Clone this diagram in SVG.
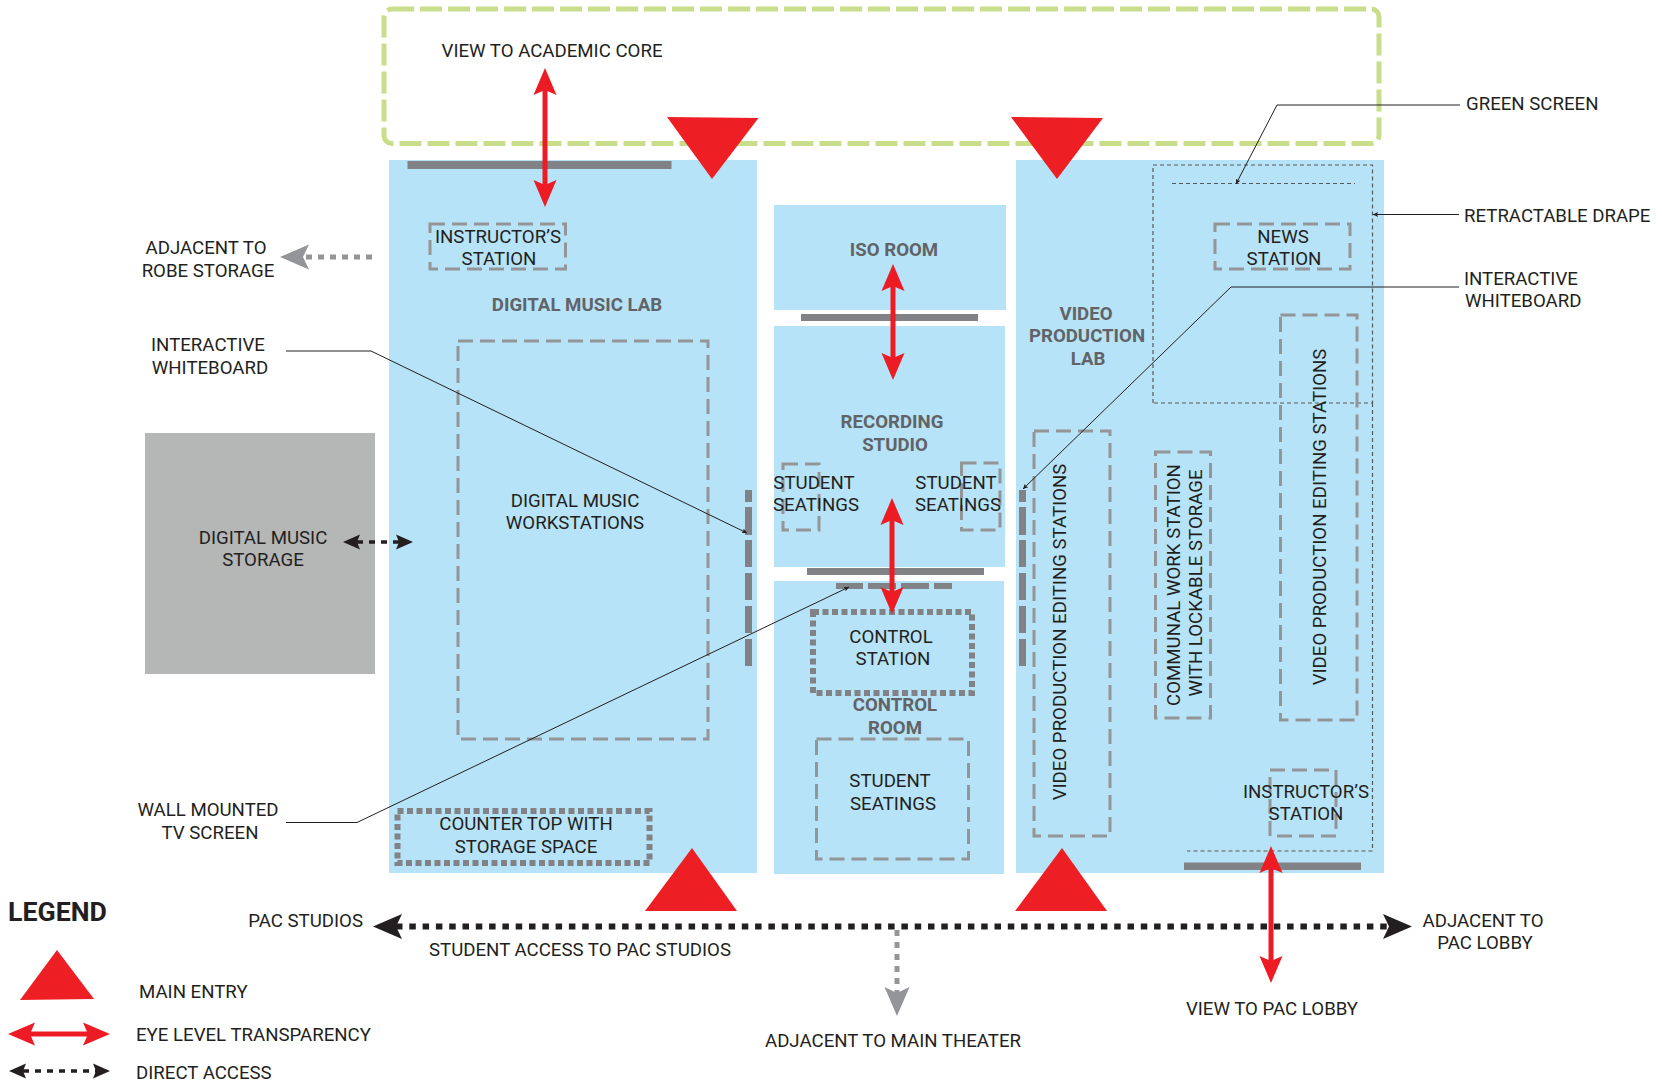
<svg xmlns="http://www.w3.org/2000/svg" width="1662" height="1085" viewBox="0 0 1662 1085">
<style>
text{font-family:Roboto,"Liberation Sans",sans-serif;font-size:18.65px;fill:#231f20;text-anchor:middle}
.b{font-weight:700;fill:#626366}
.s{text-anchor:start}
.e{text-anchor:end}
.room{fill:#b6e3f7}
.wall{fill:#808285}
.box{fill:none;stroke:#939598;stroke-width:3;stroke-dasharray:15 7}
.dot{fill:none;stroke:#808285;stroke-width:6;stroke-dasharray:6 3.500}
.thin{fill:none;stroke:#58595b;stroke-width:1.2;stroke-dasharray:4 3}
.lead{fill:none;stroke:#231f20;stroke-width:1;marker-end:url(#small)}
.red{stroke:#ed1c24;stroke-width:5;fill:none;marker-start:url(#rh);marker-end:url(#rh)}
.tri{fill:#ed1f24}
</style>
<defs>
<marker id="rh" markerUnits="userSpaceOnUse" markerWidth="28" markerHeight="24" refX="5" refY="11.500" orient="auto-start-reverse" viewBox="0 0 28 23"><path d="M27 11.500L0 0L5 11.500L0 23Z" fill="#ed1c24"/></marker>
<marker id="kh" markerUnits="userSpaceOnUse" markerWidth="30" markerHeight="26" refX="6" refY="12.500" orient="auto-start-reverse" viewBox="0 0 30 25"><path d="M29 12.500L0 0L6 12.500L0 25Z" fill="#231f20"/></marker>
<marker id="kh2" markerUnits="userSpaceOnUse" markerWidth="18" markerHeight="16" refX="3" refY="7.500" orient="auto-start-reverse" viewBox="0 0 18 15"><path d="M17 7.500L0 0L3 7.500L0 15Z" fill="#231f20"/></marker>
<marker id="gh" markerUnits="userSpaceOnUse" markerWidth="30" markerHeight="26" refX="6" refY="12.500" orient="auto-start-reverse" viewBox="0 0 30 25"><path d="M29 12.500L0 0L6 12.500L0 25Z" fill="#939598"/></marker>
<marker id="small" markerUnits="userSpaceOnUse" markerWidth="6" markerHeight="6" refX="5" refY="2.500" orient="auto" viewBox="0 0 6 5"><path d="M5 2.500L0 0L1 2.500L0 5Z" fill="#231f20"/></marker>
</defs>

<g id="academic-core"><rect x="384" y="9" width="995" height="134.500" rx="8" fill="none" stroke="#c9de8b" stroke-width="5" stroke-dasharray="22 6"/><text x="552" y="57">VIEW TO ACADEMIC CORE</text></g>

<g id="digital-music-lab">
<rect class="room" x="389" y="160" width="368" height="713"/>
<rect class="wall" x="407.500" y="161" width="264" height="8"/>
<text class="b" x="577" y="311">DIGITAL MUSIC LAB</text>
</g>
<g id="iso-room"><rect class="room" x="774" y="205" width="232" height="105"/><text class="b" x="894" y="256">ISO ROOM</text></g>
<g id="recording-studio">
<rect class="room" x="774" y="326" width="231" height="241"/>
<rect class="wall" x="801" y="314" width="177" height="7"/>
<text class="b" x="892" y="428">RECORDING</text><text class="b" x="895" y="451">STUDIO</text>
</g>
<g id="control-room">
<rect class="room" x="774" y="581" width="230" height="293"/>
<rect class="wall" x="807" y="568" width="177" height="7"/>
<rect class="wall" x="836" y="583" width="27" height="6"/><rect class="wall" x="868" y="583" width="28" height="6"/><rect class="wall" x="901" y="583" width="28" height="6"/><rect class="wall" x="934" y="583" width="18" height="6"/>
<text class="b" x="895" y="711">CONTROL</text><text class="b" x="895" y="734">ROOM</text>
</g>
<g id="video-production-lab">
<rect class="room" x="1016" y="160" width="368" height="713"/>
<rect class="wall" x="1184" y="862.500" width="177" height="7.500"/>
<text class="b" x="1086" y="320">VIDEO</text><text class="b" x="1087" y="342">PRODUCTION</text><text class="b" x="1088" y="365">LAB</text>
<path class="thin" d="M1153 403V165H1372.500V403H1153M1372.500 403V851H1187"/>
<path class="thin" d="M1172 183.500H1355"/>
</g>
<g id="whiteboard-left" class="wall"><rect x="745" y="490" width="7" height="12"/><rect x="745" y="507" width="7" height="28"/><rect x="745" y="540" width="7" height="27"/><rect x="745" y="573" width="7" height="27"/><rect x="745" y="606" width="7" height="27"/><rect x="745" y="639" width="7" height="27"/></g>
<g id="whiteboard-right" class="wall"><rect x="1019" y="490" width="7" height="12"/><rect x="1019" y="507" width="7" height="28"/><rect x="1019" y="540" width="7" height="27"/><rect x="1019" y="573" width="7" height="27"/><rect x="1019" y="606" width="7" height="27"/><rect x="1019" y="639" width="7" height="27"/></g>
<g id="digital-music-storage"><rect x="145" y="433" width="230" height="241" fill="#b5b6b6"/><text x="263" y="544">DIGITAL MUSIC</text><text x="263" y="566">STORAGE</text></g>

<g id="instructor-station-music"><rect class="box" x="430" y="224" width="135.500" height="45"/><text x="498" y="243">INSTRUCTOR’S</text><text x="499" y="265">STATION</text></g>
<g id="music-workstations"><rect class="box" x="458" y="341" width="250" height="398"/><text x="575" y="507">DIGITAL MUSIC</text><text x="575" y="529">WORKSTATIONS</text></g>
<g id="counter-top"><rect class="dot" x="397.500" y="811" width="252" height="52"/><text x="526" y="830">COUNTER TOP WITH</text><text x="526" y="853">STORAGE SPACE</text></g>
<g id="seating-left"><rect class="box" x="783" y="464" width="36" height="66"/><text x="814" y="489">STUDENT</text><text x="816" y="511">SEATINGS</text></g>
<g id="seating-right"><rect class="box" x="961.500" y="463" width="38.500" height="67"/><text x="956" y="489">STUDENT</text><text x="958" y="511">SEATINGS</text></g>
<g id="control-station"><rect class="dot" x="813" y="612" width="159" height="81"/><text x="891" y="643">CONTROL</text><text x="893" y="665">STATION</text></g>
<g id="seating-control"><rect class="box" x="816.500" y="739" width="152" height="120"/><text x="890" y="787">STUDENT</text><text x="893" y="810">SEATINGS</text></g>
<g id="editing-left"><rect class="box" x="1034" y="431" width="76" height="405"/><text transform="translate(1066 632) rotate(-90)">VIDEO PRODUCTION EDITING STATIONS</text></g>
<g id="communal"><rect class="box" x="1155.500" y="452" width="55" height="266"/><text transform="translate(1180 585) rotate(-90)">COMMUNAL WORK STATION</text><text transform="translate(1202 583) rotate(-90)">WITH LOCKABLE STORAGE</text></g>
<g id="editing-right"><rect class="box" x="1280.500" y="315" width="76.500" height="405"/><text transform="translate(1326 517) rotate(-90)">VIDEO PRODUCTION EDITING STATIONS</text></g>
<g id="news-station"><rect class="box" x="1215" y="224" width="135" height="45"/><text x="1283" y="243">NEWS</text><text x="1284" y="265">STATION</text></g>
<g id="instructor-station-video"><rect class="box" x="1270" y="770" width="66" height="66"/><text x="1306" y="798">INSTRUCTOR’S</text><text x="1306" y="820">STATION</text></g>

<g id="entries">
<path class="tri" d="M667 117L758.500 118L712 179Z"/><path class="tri" d="M1011 117L1103 118L1057 179Z"/>
<path class="tri" d="M692 848L737 911L645 911Z"/><path class="tri" d="M1062 848L1107 911L1015 911Z"/>
</g>

<g id="connectors">
<path d="M396 926.500H1389" fill="none" stroke="#231f20" stroke-width="6" stroke-dasharray="6.500 6.800" marker-start="url(#kh)" marker-end="url(#kh)"/>
<path d="M372 257H303" fill="none" stroke="#939598" stroke-width="5" stroke-dasharray="6 6" marker-end="url(#gh)"/>
<path d="M897 930V993" fill="none" stroke="#939598" stroke-width="5" stroke-dasharray="6 6" marker-end="url(#gh)"/>
<path d="M357 542H399" fill="none" stroke="#231f20" stroke-width="3.500" stroke-dasharray="6 6" marker-start="url(#kh2)" marker-end="url(#kh2)"/>
<path class="red" d="M545 90V185"/>
<path class="red" d="M893 286V358"/>
<path class="red" d="M892 520V592"/>
<path class="red" d="M1271 868V961"/>
<path class="lead" d="M1460 105H1277L1236 184"/>
<path class="lead" d="M1459 214.500H1373"/>
<path class="lead" d="M1459 287H1231L1023 489"/>
<path class="lead" d="M286 351H371L747 533"/>
<path class="lead" d="M286 822.500H357L849 587"/>
</g>

<g id="labels">
<text x="206" y="254">ADJACENT TO</text><text x="208" y="277">ROBE STORAGE</text>
<text x="208" y="351">INTERACTIVE</text><text x="210" y="374">WHITEBOARD</text>
<text x="208" y="816">WALL MOUNTED</text><text x="210" y="839">TV SCREEN</text>
<text class="e" x="363" y="927">PAC STUDIOS</text>
<text x="580" y="956">STUDENT ACCESS TO PAC STUDIOS</text>
<text x="893" y="1047">ADJACENT TO MAIN THEATER</text>
<text x="1272" y="1015">VIEW TO PAC LOBBY</text>
<text x="1483" y="927">ADJACENT TO</text><text x="1485" y="949">PAC LOBBY</text>
<text class="s" x="1466" y="110">GREEN SCREEN</text>
<text class="s" x="1464" y="222">RETRACTABLE DRAPE</text>
<text class="s" x="1464" y="285">INTERACTIVE</text><text class="s" x="1465" y="307">WHITEBOARD</text>
</g>

<g id="legend">
<text class="s" x="8" y="921" style="font-size:26.700px;font-weight:700">LEGEND</text>
<path class="tri" d="M57 950L94 999L20 1000Z"/>
<text class="s" x="139" y="998">MAIN ENTRY</text>
<path class="red" d="M30 1034H88"/>
<text class="s" x="136" y="1041">EYE LEVEL TRANSPARENCY</text>
<path d="M23 1071H96" fill="none" stroke="#231f20" stroke-width="3.500" stroke-dasharray="6 6" marker-start="url(#kh2)" marker-end="url(#kh2)"/>
<text class="s" x="136" y="1079">DIRECT ACCESS</text>
</g>
</svg>
